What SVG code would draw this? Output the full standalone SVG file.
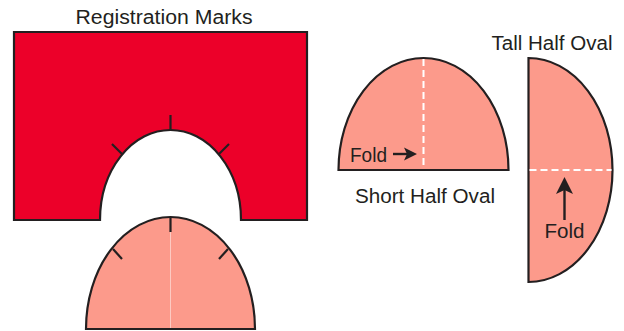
<svg xmlns="http://www.w3.org/2000/svg" width="624" height="331" viewBox="0 0 624 331">
<style>
.lbl{font-family:"Liberation Sans",Arial,sans-serif;font-size:20px;fill:#231f20}
.edge{stroke:#231f20;stroke-width:2.2;stroke-linejoin:miter}
.red{fill:#ec0029}
.pink{fill:#fc9a8b}
.tick{stroke:#231f20;stroke-width:2.2;fill:none}
.fold{stroke:#fff;stroke-width:2;stroke-dasharray:7 4;fill:none}
.arr{stroke:#231f20;stroke-width:2.4;fill:none}
.head{fill:#231f20}
</style>
<rect width="624" height="331" fill="#fff"/>
<g id="registration-marks">
<text class="lbl" x="164" y="24" text-anchor="middle" textLength="177" lengthAdjust="spacingAndGlyphs">Registration Marks</text>
<path class="red edge" d="M14,32 H307 V220 H241 A70.5,90 0 0 0 100,220 H14 Z"/>
<line class="tick" x1="170.5" y1="115" x2="170.5" y2="130"/>
<line class="tick" x1="112" y1="144" x2="122" y2="154"/>
<line class="tick" x1="229" y1="144" x2="219" y2="154"/>
</g>
<g id="registration-piece">
<path class="pink edge" d="M86,329 A84.5,112 0 0 1 255,329 Z"/>
<line x1="170.5" y1="218" x2="170.5" y2="328" stroke="#fff" stroke-opacity="0.6" stroke-width="0.8"/>
<line class="tick" x1="170.5" y1="217" x2="170.5" y2="232"/>
<line class="tick" x1="113" y1="249" x2="122" y2="259"/>
<line class="tick" x1="228" y1="249" x2="219" y2="259"/>
</g>
<g id="short-half-oval">
<path class="pink edge" d="M338.5,170 A85,112 0 0 1 508.5,170 Z"/>
<line class="fold" x1="423.5" y1="59" x2="423.5" y2="169"/>
<text class="lbl" x="350" y="162" textLength="37" lengthAdjust="spacingAndGlyphs">Fold</text>
<line class="arr" x1="393" y1="154" x2="407" y2="154"/>
<path class="head" d="M417,154 L404,147.5 L407,154 L404,160.5 Z"/>
<text class="lbl" x="355" y="202.5" textLength="140" lengthAdjust="spacingAndGlyphs">Short Half Oval</text>
</g>
<g id="tall-half-oval">
<text class="lbl" x="491.5" y="49.5" textLength="121" lengthAdjust="spacingAndGlyphs">Tall Half Oval</text>
<path class="pink edge" d="M528.5,58 A84,112 0 0 1 528.5,282 Z"/>
<line class="fold" x1="529.5" y1="170" x2="611.5" y2="170"/>
<line class="arr" x1="564.5" y1="220" x2="564.5" y2="190"/>
<path class="head" d="M564.5,177 L556,194 L564.5,190 L573,194 Z"/>
<text class="lbl" x="544.5" y="238" textLength="40" lengthAdjust="spacingAndGlyphs">Fold</text>
</g>
</svg>
